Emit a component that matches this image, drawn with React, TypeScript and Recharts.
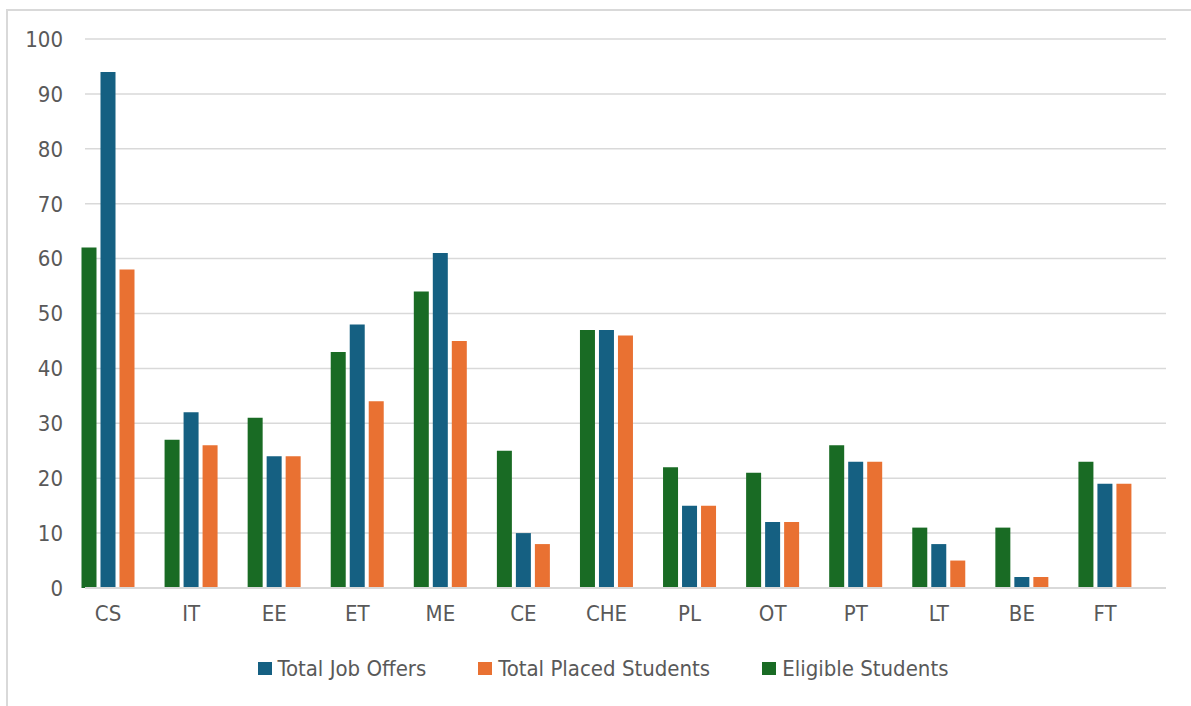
import React from "react";
import { BarChart, Bar, XAxis, YAxis, CartesianGrid } from "recharts";

const categories = ["CS", "IT", "EE", "ET", "ME", "CE", "CHE", "PL", "OT", "PT", "LT", "BE", "FT"];
const eligibleStudents = [62, 27, 31, 43, 54, 25, 47, 22, 21, 26, 11, 11, 23];
const totalJobOffers = [94, 32, 24, 48, 61, 10, 47, 15, 12, 23, 8, 2, 19];
const totalPlacedStudents = [58, 26, 24, 34, 45, 8, 46, 15, 12, 23, 5, 2, 19];
const yTicks = [0, 10, 20, 30, 40, 50, 60, 70, 80, 90, 100];

// bars are drawn in this order
const series = [
  { key: "eligible", name: "Eligible Students", color: "#196B24" },
  { key: "offers", name: "Total Job Offers", color: "#156082" },
  { key: "placed", name: "Total Placed Students", color: "#E97132" },
];
// legend shows them in this order
const legendOrder = ["offers", "placed", "eligible"];

const data = categories.map((name, i) => ({
  name,
  eligible: eligibleStudents[i],
  offers: totalJobOffers[i],
  placed: totalPlacedStudents[i],
}));

const FONT = "'DejaVu Sans Condensed', 'DejaVu Sans', sans-serif";
const TEXT = "#595959";
const GRID = "#D9D9D9";

export default function App() {
  return (
    <div style={{ position: "fixed", left: 0, top: 0, width: 1191, height: 706, overflow: "hidden", background: "#fff" }}>
      {/* outer chart border, runs off the right and bottom edges */}
      <div
        style={{
          position: "absolute",
          left: 6,
          top: 9,
          width: 1220,
          height: 720,
          border: `2px solid ${GRID}`,
          boxSizing: "border-box",
        }}
      />
      <div style={{ position: "absolute", left: 0, top: 0 }}>
        <BarChart
          width={1191}
          height={706}
          data={data}
          margin={{ top: 39, right: 25, left: 0, bottom: 68 }}
          barGap={4}
          barSize={15}
        >
          <CartesianGrid vertical={false} stroke={GRID} strokeWidth={1.5} />
          <XAxis
            dataKey="name"
            height={50}
            padding={{ left: -18.5, right: 19.5 }}
            axisLine={{ stroke: GRID, strokeWidth: 2 }}
            tickLine={false}
            tickSize={0}
            tickMargin={17}
            tick={{ fill: TEXT, fontSize: 22, fontFamily: FONT }}
            interval={0}
          />
          <YAxis
            width={85}
            domain={[0, 100]}
            ticks={yTicks}
            axisLine={false}
            tickLine={false}
            tickSize={0}
            tickMargin={22}
            tick={{ fill: TEXT, fontSize: 22, fontFamily: FONT }}
          />
          {series.map((s) => (
            <Bar key={s.key} dataKey={s.key} name={s.name} fill={s.color} isAnimationActive={false} />
          ))}
        </BarChart>
      </div>
      {/* legend */}
      <div
        style={{
          position: "absolute",
          top: 656,
          left: 0,
          width: 1191,
          display: "flex",
          justifyContent: "center",
          paddingLeft: 15,
          boxSizing: "border-box",
          fontFamily: FONT,
          fontSize: 22,
          color: TEXT,
          gap: 52,
        }}
      >
        {legendOrder.map((k) => {
          const s = series.find((x) => x.key === k)!;
          return (
            <div key={k} style={{ display: "flex", alignItems: "center", gap: 6 }}>
              <span style={{ display: "inline-block", width: 14, height: 13, background: s.color }} />
              <span>{s.name}</span>
            </div>
          );
        })}
      </div>
    </div>
  );
}
